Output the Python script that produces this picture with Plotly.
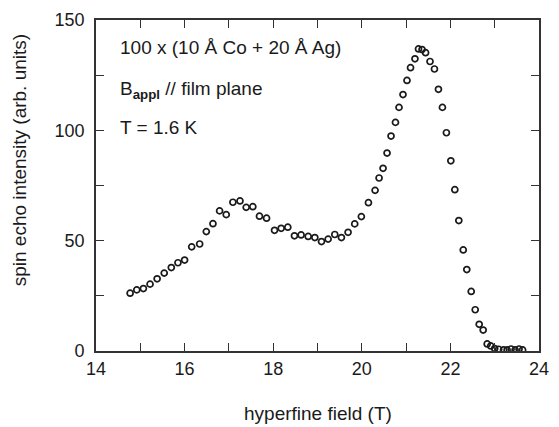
import plotly.graph_objects as go

# Hyperfine field (T) and spin echo intensity (arb. units)
field_T = [14.77, 14.92, 15.07, 15.22, 15.38, 15.54, 15.70, 15.85, 16.00, 16.16,
           16.34, 16.49, 16.64, 16.79, 16.94, 17.09, 17.25, 17.39, 17.54, 17.69,
           17.85, 18.03, 18.18, 18.33, 18.48, 18.63, 18.79, 18.94, 19.09, 19.24,
           19.39, 19.54, 19.69, 19.84, 19.99, 20.15, 20.30, 20.39, 20.48, 20.57,
           20.66, 20.76, 20.84, 20.93, 21.02, 21.10, 21.20, 21.28, 21.36, 21.44,
           21.54, 21.64, 21.73, 21.82, 21.91, 22.01, 22.10, 22.19, 22.29, 22.37,
           22.47, 22.56, 22.65, 22.74, 22.83, 22.91, 23.00, 23.09, 23.20, 23.28,
           23.37, 23.46, 23.55, 23.63]
intensity = [26.2, 27.7, 28.3, 30.3, 32.7, 35.3, 37.8, 40.0, 41.2, 47.2,
             48.5, 54.1, 57.7, 63.5, 61.8, 67.4, 68.0, 65.1, 65.4, 61.1,
             60.2, 54.7, 55.6, 56.1, 52.2, 52.6, 51.9, 51.4, 49.6, 50.7,
             52.8, 51.4, 53.8, 57.6, 60.9, 67.2, 72.8, 78.4, 82.8, 89.7,
             97.4, 103.6, 110.4, 116.2, 122.6, 128.4, 132.4, 136.9, 136.6, 135.2,
             131.2, 127.8, 118.6, 110.4, 98.9, 86.2, 73.1, 59.1, 45.8, 36.9,
             27.0, 18.7, 12.1, 9.5, 3.2, 2.3, 1.1, 0.8, 0.5, 0.5,
             0.9, 0.5, 0.9, 0.5]

x_ticks = [14, 16, 18, 20, 22, 24]
y_ticks = [0, 50, 100, 150]

info_lines = ["100 x (10 Å Co + 20 Å Ag)",
              "B<sub><b>appl</b></sub> // film plane",
              "T = 1.6 K"]

FONT = "Liberation Sans, Arial, Helvetica, sans-serif"
INK = "#1a1a1a"

fig = go.Figure()
fig.add_trace(go.Scatter(
    x=field_T, y=intensity, mode="markers",
    marker=dict(symbol="circle-open", size=6, color=INK, line=dict(width=1.7, color=INK)),
    showlegend=False,
))

axis_common = dict(
    showline=True, linecolor="#333333", linewidth=1.6, mirror="allticks",
    ticks="inside", ticklen=8, tickwidth=1.4, tickcolor="#333333",
    showgrid=False, zeroline=False,
    tickfont=dict(family=FONT, size=18, color=INK),
)

fig.update_xaxes(
    range=[14, 24], tickvals=x_ticks, ticktext=[str(v) for v in x_ticks],
    minor=dict(dtick=1, ticks="inside", ticklen=8, tickwidth=1.4, tickcolor="#333333"),
    ticklabelstandoff=1,
    **axis_common,
)
fig.update_yaxes(
    range=[0, 150], tickvals=y_ticks, ticktext=[str(v) for v in y_ticks],
    minor=dict(dtick=25, ticks="inside", ticklen=8, tickwidth=1.4, tickcolor="#333333"),
    ticklabelstandoff=6,
    **axis_common,
)

annotations = [
    dict(text="hyperfine field (T)", xref="paper", yref="paper", x=0.5, y=-0.19,
         xanchor="center", yanchor="middle", showarrow=False,
         font=dict(family=FONT, size=19, color=INK)),
    dict(text="spin echo intensity (arb. units)", xref="paper", yref="paper",
         x=-0.174, y=0.576, xanchor="center", yanchor="middle", textangle=-90,
         showarrow=False, font=dict(family=FONT, size=19, color=INK)),
]
for line, ypos in zip(info_lines, [0.918, 0.790, 0.675]):
    annotations.append(dict(text=line, xref="paper", yref="paper", x=0.05, y=ypos,
                            xanchor="left", yanchor="middle", showarrow=False,
                            font=dict(family=FONT, size=19, color=INK)))

fig.update_layout(
    width=559, height=427,
    margin=dict(l=96, r=10, t=19, b=76),
    paper_bgcolor="white", plot_bgcolor="white",
    annotations=annotations,
)

fig.write_html("out.html")
